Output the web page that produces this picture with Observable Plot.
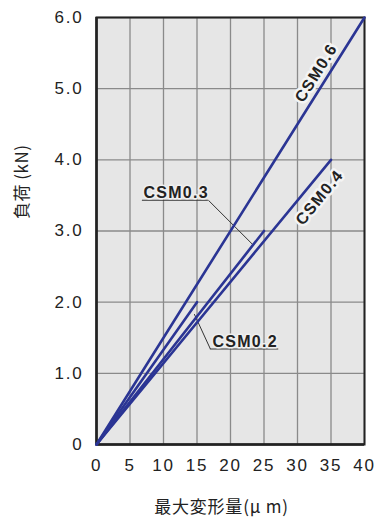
<!DOCTYPE html>
<html>
<head>
<meta charset="utf-8">
<script src="https://cdn.jsdelivr.net/npm/d3@7"></script>
<script src="https://cdn.jsdelivr.net/npm/@observablehq/plot@0.6"></script>
<style>
  html, body { margin: 0; padding: 0; background: #fff; }
  svg { font-family: "Liberation Sans", Arial, sans-serif; }
  .tk text { letter-spacing: 1.8px; }
  .rl text { letter-spacing: 1.3px; }
  .cl text { letter-spacing: 1.3px; }
  .yl text { letter-spacing: 0.5px; }
  .xl text { letter-spacing: 0.8px; }
</style>
</head>
<body>
<div id="chart"></div>
<script>
// Series: end points of each straight load/deflection line (all start at origin)
const seriesNames = ["CSM0.6", "CSM0.4", "CSM0.3", "CSM0.2"];
const endDeflection = [40, 35, 25, 15];   // µm
const endLoad = [6.0, 4.0, 3.0, 2.0];     // kN

const xTicks = [0, 5, 10, 15, 20, 25, 30, 35, 40];
const yTicks = [0, 1, 2, 3, 4, 5, 6];
const yTickLabels = ["0", "1.0", "2.0", "3.0", "4.0", "5.0", "6.0"];

// Rotated in-line labels
const rotLabels = ["CSM0.6", "CSM0.4"];
const rotLabelX = [32.8, 33.3];
const rotLabelY = [5.22, 3.47];
const rotLabelAngle = [-58, -51];

// Callout labels with underline + leader
const callLabels = ["CSM0.3", "CSM0.2"];
const callTextX = [7.0, 17.3];
const callTextY = [3.46, 1.37];
const underlineX1 = [6.85, 17.0];
const underlineX2 = [16.7, 27.2];
const leaderFromX = [16.7, 17.0];
const leaderToX = [23.4, 14.6];
const leaderToY = [2.83, 1.86];

const xLabel = "最大変形量(μ m)";
const yLabel = "負荷 (kN)";

const lines = seriesNames.flatMap((s, i) => [
  {series: s, x: 0, y: 0},
  {series: s, x: endDeflection[i], y: endLoad[i]}
]);
const rot = rotLabels.map((t, i) => ({t, x: rotLabelX[i], y: rotLabelY[i], a: rotLabelAngle[i]}));
const calls = callLabels.map((t, i) => ({
  t, x: callTextX[i], y: callTextY[i],
  ux1: underlineX1[i], ux2: underlineX2[i],
  lx1: leaderFromX[i], lx2: leaderToX[i], ly2: leaderToY[i]
}));

const lineColor = "#2b3594";
const cjk = "'Noto Sans CJK JP', 'Noto Sans CJK SC', sans-serif";

const chart = Plot.plot({
  width: 376,
  height: 519,
  marginLeft: 96,
  marginRight: 12,
  marginTop: 17,
  marginBottom: 75,
  style: {fontFamily: "'Liberation Sans', Arial, sans-serif", background: "#fff"},
  x: {domain: [0, 40]},
  y: {domain: [0, 6]},
  marks: [
    Plot.frame({fill: "#e6e6e6", stroke: null}),
    Plot.gridX(xTicks, {stroke: "#8a8a8a", strokeOpacity: 1, strokeWidth: 1.3}),
    Plot.gridY(yTicks, {stroke: "#8a8a8a", strokeOpacity: 1, strokeWidth: 1.3}),
    Plot.frame({stroke: "#222", strokeWidth: 2}),
    Plot.ruleX([0], {stroke: "#222", strokeWidth: 2.5}),
    Plot.ruleY([0], {stroke: "#222", strokeWidth: 2.5}),
    Plot.axisX(xTicks, {
      tickSize: 0, tickPadding: 14, fontSize: 17, fill: "#222",
      tickFormat: d => String(d), label: null, className: "tk"
    }),
    Plot.axisY(yTicks, {
      tickSize: 0, tickPadding: 13, fontSize: 17, fill: "#222",
      tickFormat: d => yTickLabels[yTicks.indexOf(d)], label: null, className: "tk"
    }),
    // callout underlines and leaders
    Plot.ruleY(calls, {y: "y", x1: "ux1", x2: "ux2", stroke: "#333", strokeWidth: 1.2, dy: 2}),
    Plot.link(calls, {x1: "lx1", y1: "y", x2: "lx2", y2: "ly2", stroke: "#333", strokeWidth: 1, dy: 2}),
    Plot.line(lines, {x: "x", y: "y", z: "series", stroke: lineColor, strokeWidth: 2.6}),
    Plot.text(rot, {
      x: "x", y: "y", text: "t", rotate: d => d.a,
      fontSize: 16, fontWeight: "bold", fill: "#222",
      stroke: "#f4f4f4", strokeWidth: 5, className: "rl"
    }),
    Plot.text(calls, {
      x: "x", y: "y", text: "t", textAnchor: "start", lineAnchor: "bottom",
      fontSize: 16, fontWeight: "bold", fill: "#222",
      stroke: "#f0f0f0", strokeWidth: 3, className: "cl"
    }),
    Plot.text([yLabel], {
      frameAnchor: "left", dx: -74, dy: -12, rotate: -90,
      fontSize: 17, fill: "#222", fontFamily: cjk, className: "yl"
    }),
    Plot.text([xLabel], {
      frameAnchor: "bottom", dx: -9, dy: 68,
      fontSize: 17, fill: "#222", fontFamily: cjk, className: "xl"
    })
  ]
});
document.getElementById("chart").appendChild(chart);
</script>
</body>
</html>
